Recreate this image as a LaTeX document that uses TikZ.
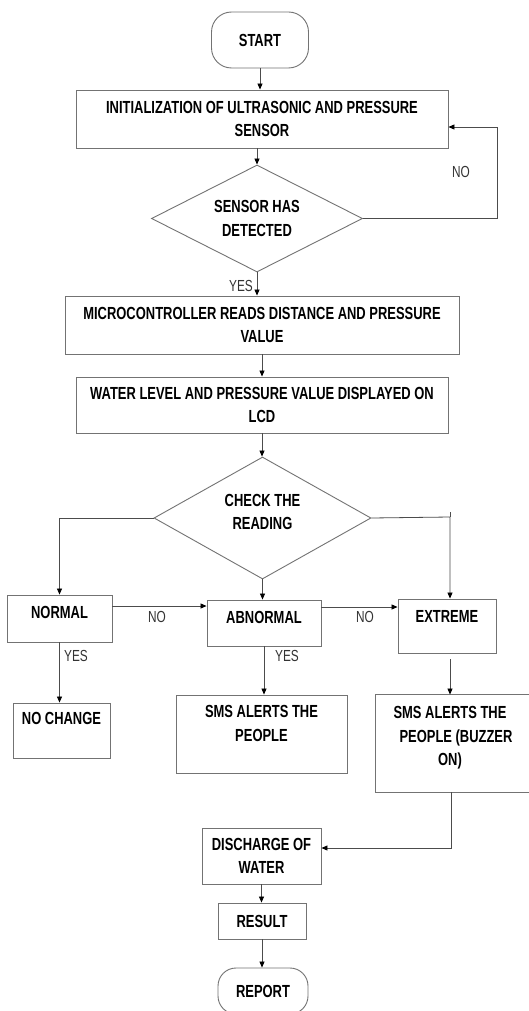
\documentclass[tikz,border=0pt]{standalone}
\usepackage{fontspec}
\setmainfont[FakeStretch=0.74]{Liberation Sans}
\usetikzlibrary{shapes.geometric,arrows.meta,calc}
\begin{document}
\begin{tikzpicture}[x=1pt,y=-1pt,
  box/.style={draw=black!55,line width=0.9pt,inner sep=0pt,align=center,font=\fontsize{17.5}{23.5}\selectfont\bfseries},
  openbox/.style={box,draw=none},
  edge/.style={draw=black!55,line width=0.9pt},
  term/.style={box,rounded corners=20pt},
  dec/.style={box,diamond,aspect=2},
  arr/.style={draw=black!70,line width=0.8pt,-{Triangle[length=6pt,width=5pt,black]}},
  conn/.style={draw=black!70,line width=0.8pt},
  lbl/.style={font=\fontsize{16}{20}\selectfont,text=black!80,inner sep=0pt}
]
\useasboundingbox (0,0) rectangle (529,1011);
\clip (0,0) rectangle (529,1011);
\fill[white] (0,0) rectangle (529,1011);
% nodes
\node[term,minimum width=97pt,minimum height=56pt] (start) at (260,40) {START};
\node[box,minimum width=372pt,minimum height=58pt] (init) at (262,119) {INITIALIZATION OF ULTRASONIC AND PRESSURE\\SENSOR};
\node[dec,minimum width=211pt,minimum height=107pt] (d1) at (257,218.5) {SENSOR HAS\\DETECTED};
\node[box,minimum width=394pt,minimum height=58pt] (micro) at (262,325) {MICROCONTROLLER READS DISTANCE AND PRESSURE\\VALUE};
\node[box,minimum width=372pt,minimum height=56pt] (water) at (262,405) {WATER LEVEL AND PRESSURE VALUE DISPLAYED ON\\LCD};
\node[dec,minimum width=217pt,minimum height=122pt,text depth=12pt] (d2) at (262.5,518) {CHECK THE\\READING};
\node[box,minimum width=105pt,minimum height=47pt,text depth=13pt] (normal) at (59.5,618.5) {NORMAL};
\node[box,minimum width=114pt,minimum height=46pt,text depth=12pt] (abnormal) at (264,623) {ABNORMAL};
\node[box,minimum width=98pt,minimum height=54pt,text depth=20pt] (extreme) at (447,626) {EXTREME};
\node[box,minimum width=97pt,minimum height=55pt,text depth=25pt] (nochange) at (61.5,730.5) {NO CHANGE};
\node[box,minimum width=171pt,minimum height=78pt,text depth=21pt] (sms1) at (261.5,734) {SMS ALERTS THE\\PEOPLE};
\node[openbox,minimum width=160pt,minimum height=97pt,text depth=15pt] (sms2) at (456,743.5) {SMS ALERTS THE\hspace*{12pt}\\PEOPLE (BUZZER\hspace*{12pt}\\ON)\hspace*{12pt}};
\draw[edge] (sms2.north east) -- (sms2.north west) -- (sms2.south west) -- (sms2.south east);
\node[box,minimum width=119pt,minimum height=56pt] (discharge) at (261.5,856) {DISCHARGE OF\\WATER};
\node[box,minimum width=88pt,minimum height=36pt] (result) at (262,921) {RESULT};
\node[term,rounded corners=18pt,minimum width=90pt,minimum height=46pt] (report) at (263,991) {REPORT};
% labels
\node[lbl] (no1) at (461,172) {NO};
\node[lbl] (yes1) at (241,286) {YES};
\node[lbl] (no2) at (157,617) {NO};
\node[lbl] (no3) at (365,617) {NO};
\node[lbl] (yes2) at (76,656) {YES};
\node[lbl] (yes3) at (287,656) {YES};
% connectors
\coordinate (nl) at (497,127);
\coordinate (rt) at (450,517);
\coordinate (rtk) at (450,512);
\coordinate (ex) at (450,659);
\coordinate (dc) at (451,848);
\draw[arr] (start.south) -- (start.south |- init.north);
\draw[arr] (d1.north |- init.south) -- (d1.north);
\draw[arr] (d1.east) -| (nl) -- (init.east |- nl);
\draw[arr] (d1.south) -- (d1.south |- micro.north);
\draw[arr] (micro.south) -- (water.north);
\draw[arr] (water.south) -- (water.south |- d2.north);
\draw[arr] (d2.west) -| (normal.north);
\draw[conn] (rtk) -- (rt);
\draw[arr] (d2.east) -- (rt) -- (rt |- extreme.north);
\draw[arr] (d2.south) -- (d2.south |- abnormal.north);
\draw[arr] (normal.east |- 0,606) -- (abnormal.west |- 0,606);
\draw[arr] (abnormal.east |- 0,607) -- (extreme.west |- 0,607);
\draw[arr] (normal.south) -- (normal.south |- nochange.north);
\draw[arr] (abnormal.south) -- (abnormal.south |- sms1.north);
\draw[arr] (ex) -- (ex |- sms2.north);
\draw[arr] (sms2.south -| dc) -- (dc) -- (discharge.east |- dc);
\draw[arr] (discharge.south) -- (discharge.south |- result.north);
\draw[arr] (result.south) -- (result.south |- report.north);
\end{tikzpicture}
\end{document}
